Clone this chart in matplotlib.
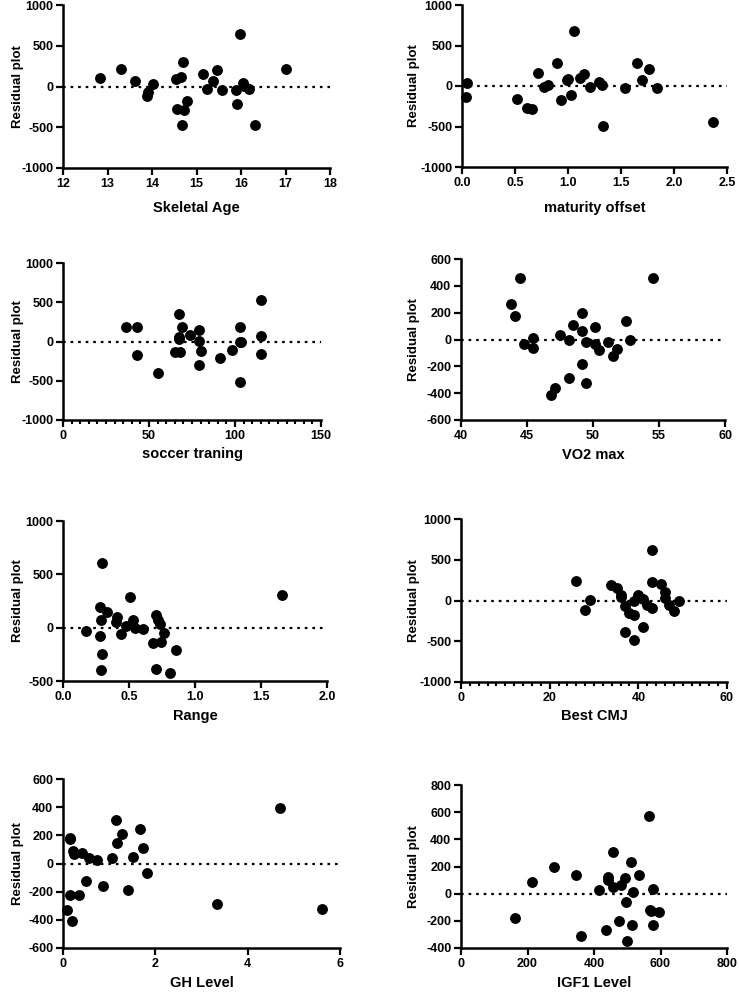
import matplotlib
matplotlib.use("Agg")
import matplotlib.pyplot as plt
from matplotlib.ticker import MultipleLocator

plt.rcParams['font.family'] = ['Liberation Sans', 'DejaVu Sans']
plt.rcParams['font.weight'] = 'bold'
plt.rcParams['axes.unicode_minus'] = False

# Skeletal Age
skel_x = [12.83, 13.30, 13.62, 13.91, 13.88, 14.02, 14.54, 14.65, 14.69, 14.57, 14.72, 14.78, 14.67,
          15.14, 15.24, 15.38, 15.46, 15.57, 15.88, 15.98, 16.04, 16.06, 16.17, 15.92, 16.32, 17.00]
skel_y = [106, 220, 69, -65, -118, 29, 94, 114, 298, -273, -290, -176, -473,
          151, -29, 69, 200, -45, -45, 641, 45, 12, -29, -216, -473, 220]

# maturity offset
mat_x = [0.04, 0.05, 0.52, 0.61, 0.66, 0.72, 0.77, 0.81, 0.90, 0.93, 0.99, 1.00, 1.03,
         1.06, 1.11, 1.15, 1.21, 1.29, 1.32, 1.33, 1.54, 1.65, 1.70, 1.76, 1.84, 2.37]
mat_y = [-138, 37, -163, -276, -289, 159, -12, 16, 289, -175, 73, 85, -110,
         683, 98, 154, -16, 49, 16, -492, -28, 289, 73, 207, -24, -447]

# soccer traning
soc_x = [36.5, 43.2, 43.2, 55.2, 67.2, 69.1, 67.2, 67.2, 64.9, 68.1, 74.1, 79.3,
         79.1, 80.3, 79.3, 91.1, 98.1, 102.9, 102.9, 103.3, 102.9, 114.9, 114.9, 114.9]
soc_y = [182, 182, -169, -398, 347, 186, 51, 38, -131, -136, 89, 144,
         4, -119, -297, -216, -102, 186, 0, -8, -513, 534, 76, -165]

# VO2 max
vo2_x = [43.76, 44.44, 44.11, 44.77, 45.47, 45.45, 47.47, 46.81, 47.14, 48.15, 48.15, 48.50, 49.16,
         49.16, 49.16, 49.46, 49.46, 50.14, 50.14, 50.49, 51.12, 51.48, 51.83, 52.49, 52.84, 54.53]
vo2_y = [264, 459, 178, -37, 10, -67, 32, -417, -360, 0, -284, 106, 198,
         64, -185, -20, -321, 91, -35, -81, -20, -126, -74, 138, 0, 462]

# Range
rng_x = [0.172, 0.278, 0.290, 0.280, 0.298, 0.285, 0.295, 0.331, 0.412, 0.402, 0.439, 0.480, 0.508,
         0.533, 0.545, 0.606, 0.705, 0.720, 0.735, 0.684, 0.742, 0.765, 0.705, 0.808, 0.856, 1.659]
rng_y = [-31, 196, 72, -78, -246, -393, 605, 150, 103, 50, -59, 16, 287,
         75, 0, -12, 115, 69, 37, -143, -137, -53, -384, -421, -212, 309]

# Best CMJ
cmj_x = [25.95, 27.9, 29.0, 33.9, 35.1, 36.0, 36.0, 36.9, 37.1, 38.0, 39.0, 39.0, 39.0,
         40.0, 41.0, 41.0, 42.0, 43.1, 43.0, 43.0, 45.0, 46.1, 46.1, 47.0, 48.0, 49.1]
cmj_y = [238, -111, 12, 189, 152, 66, 37, -70, -381, -152, -180, 0, -488,
         70, 20, -320, -57, -86, 623, 221, 201, 107, 33, -57, -127, -12]

# GH Level
gh_x = [0.087, 0.20, 0.144, 0.34, 0.144, 0.158, 0.21, 0.23, 0.42, 0.50, 0.56, 0.74, 0.86,
        1.06, 1.14, 1.18, 1.28, 1.41, 1.52, 1.66, 1.73, 1.81, 3.34, 4.70, 5.61]
gh_y = [-329, -407, -222, -222, 175, 182, 90, 69, 73, -121, 36, 28, -159,
        36, 308, 149, 211, -185, 47, 246, 109, -71, -289, 395, -320]

# IGF1 Level
igf_x = [161, 214, 279, 347, 360, 416, 436, 442, 443, 456, 456, 474, 481,
         494, 497, 500, 512, 514, 516, 536, 564, 567, 571, 576, 577, 595]
igf_y = [-178, 88, 198, 137, -315, 24, -269, 120, 103, 306, 49, -198, 64,
         115, -59, -345, 230, -232, 12, 139, 575, -122, -125, 32, -232, -132]

W, H = 739, 992
fig = plt.figure(figsize=(W / 100, H / 100), dpi=100)


def px_axes(x0, x1, y0, y1):
    return fig.add_axes([x0 / W, (H - y1) / H, (x1 - x0) / W, (y1 - y0) / H])


panels = [
    # data, label, pixel box, xlim, xstep, ylim, ystep, xminor, ylabel x px, xlabel y px
    (skel_x, skel_y, "Skeletal Age", (63, 330, 5, 168), (12, 18), 1, (-1000, 1000), 500, None, 18, 208),
    (mat_x, mat_y, "maturity offset", (462, 727, 5, 167), (0, 2.5), 0.5, (-1000, 1000), 500, None, 414, 208),
    (soc_x, soc_y, "soccer traning", (63, 321, 263, 420), (0, 150), 50, (-1000, 1000), 500, 5, 18, 454),
    (vo2_x, vo2_y, "VO2 max", (461, 725, 259, 420), (40, 60), 5, (-600, 600), 200, None, 414, 455),
    (rng_x, rng_y, "Range", (63, 327, 521, 681), (0, 2.0), 0.5, (-500, 1000), 500, None, 18, 716),
    (cmj_x, cmj_y, "Best CMJ", (461, 727, 519, 682), (0, 60), 20, (-1000, 1000), 500, 2, 414, 716),
    (gh_x, gh_y, "GH Level", (63, 340, 779, 948), (0, 6), 2, (-600, 600), 200, None, 18, 983),
    (igf_x, igf_y, "IGF1 Level", (461, 727, 785, 948), (0, 800), 200, (-400, 800), 200, None, 414, 983),
]

for xs, ys, xlab, box, xlim, xstep, ylim, ystep, xminor, ylx, xly in panels:
    ax = px_axes(*box)
    x0, x1, y0, y1 = box
    ax.plot(xs, ys, 'o', color='black', markersize=6.8, clip_on=False, zorder=3)
    ax.plot(xlim, [0, 0], color='black', linestyle=(0, (1.2, 2.2)), linewidth=1.6, zorder=2)
    ax.set_xlim(xlim)
    ax.set_ylim(ylim)
    ax.xaxis.set_major_locator(MultipleLocator(xstep))
    ax.yaxis.set_major_locator(MultipleLocator(ystep))
    if xminor:
        ax.xaxis.set_minor_locator(MultipleLocator(xminor))
        ax.tick_params(axis='x', which='minor', length=3, width=1.5, direction='out')
    for s in ['top', 'right']:
        ax.spines[s].set_visible(False)
    for s in ['left', 'bottom']:
        ax.spines[s].set_linewidth(1.8)
    ax.tick_params(which='major', length=5, width=1.6, direction='out', labelsize=9, pad=2)
    for lab in ax.get_xticklabels() + ax.get_yticklabels():
        lab.set_fontweight('bold')
    ax.set_xlabel(xlab, fontsize=10.5, fontweight='bold', va='center')
    ax.set_ylabel("Residual plot", fontsize=9.5, fontweight='bold', va='center')
    ax.xaxis.set_label_coords(0.5, (y1 - xly) / (y1 - y0))
    ax.yaxis.set_label_coords((ylx - x0) / (x1 - x0), 0.5)

fig.savefig("out.png", dpi=100)
